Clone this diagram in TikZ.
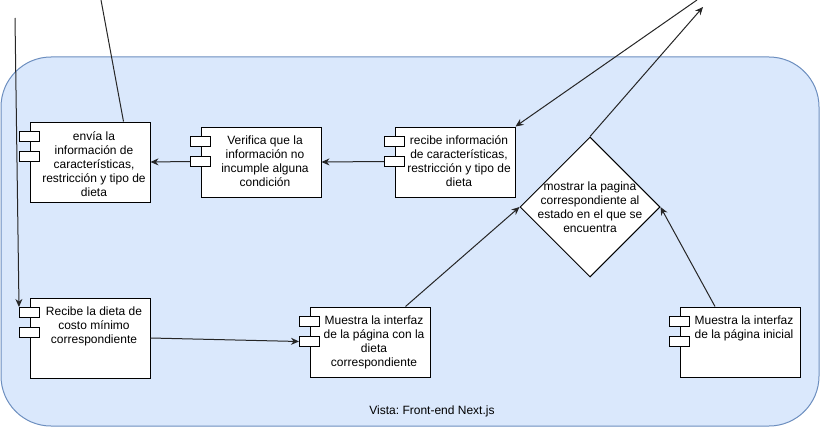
\documentclass[tikz,border=0pt]{standalone}
\definecolor{vistafill}{RGB}{218,232,252}
\definecolor{vistaline}{RGB}{108,142,191}
\usepackage{fontspec}
\setmainfont{Liberation Sans}
\usepackage{tikz}
\usetikzlibrary{positioning, arrows.meta, shapes.geometric}
\frenchspacing

\begin{document}
\begin{tikzpicture}[x=1pt, y=-1pt, font=\fontsize{12}{14}\selectfont,
  comp/.style={draw, fill=white, line width=1pt, minimum width=120pt, inner sep=0pt},
  port/.style={draw, fill=white, line width=1pt, minimum width=20pt, minimum height=10pt, inner sep=0pt},
  comptxt/.style={align=center, inner sep=0pt, xshift=4pt},
  link/.style={line width=1pt, black!85, -{Stealth[length=8pt, width=7pt]}}]
\useasboundingbox (0,0) rectangle (821,428);

% Vista container
\node[draw=vistaline, fill=vistafill, line width=1pt, rounded corners=50pt, minimum width=818pt, minimum height=369pt] (vista) at (410,241.5) {};
\node (vistalbl) at (432,411) {Vista: Front-end Next.js};

% upper row
\node[comp, minimum height=80pt] (c1) at (90,162) {};
\node[comp, minimum height=70pt, right=50pt of c1] (c2) {};
\node[comp, minimum height=70pt, right=73pt of c2] (c3) {};
\node[draw, fill=white, line width=1pt, diamond, minimum width=140pt, minimum height=140pt, inner sep=0pt] (d) at (590,207) {};

% lower row
\node[comp, minimum height=80pt, below=95pt of c1] (c5) {};
\node[comp, minimum height=70pt] (c6) at (370,342) {};
\node[comp, minimum height=70pt] (c7) at (740,342) {};

\foreach \c in {c1,c2,c3,c5,c6,c7} {
  \node[port] (\c-a) at ([yshift=-15pt]\c.north west) {};
  \node[port] (\c-b) at ([yshift=-35pt]\c.north west) {};
}

% texts
\node[comptxt, below=10pt of c1.north] (t1) {envía la\\información de\\características,\\restricción y tipo de\\dieta};
\node[comptxt, below=9pt of c2.north] (t2) {Verifica que la\\información no\\incumple alguna\\condición};
\node[comptxt, below=9pt of c3.north] (t3) {recibe información\\de características,\\restricción y tipo de\\dieta};
\node[align=center, inner sep=0pt] (td) at (d.center) {mostrar la pagina\\correspondiente al\\estado en el que se\\encuentra};
\node[comptxt, below=9pt of c5.north] (t5) {Recibe la dieta de\\costo mínimo\\correspondiente};
\node[comptxt, below=9pt of c6.north] (t6) {Muestra la interfaz\\de la página con la\\dieta\\correspondiente};
\node[comptxt, below=9pt of c7.north] (t7) {Muestra la interfaz\\de la página inicial};

% outside ends
\coordinate (e1) at (101,0);
\coordinate (e2) at (15,18);
\coordinate (e3) at (697,0);
\coordinate (e4) at (703,7);

% connectors
\draw[line width=1pt, black!85] (e1) -- ([xshift=-27pt]c1.north east);
\draw[link] (e2) -- (c5-a.north west);
\draw[link] (c2-b.west) -- (c1.east);
\draw[link] (c3-b.west) -- (c2.east);
\draw[link] (e3) -- (c3.north east);
\draw[link] (d.north) -- (e4);
\draw[link] ([xshift=-25pt]c6.north east) -- (d.west);
\draw[link] ([xshift=-25pt]c7.north) -- (d.east);
\draw[link] (c5.east) -- (c6-b.west);
\end{tikzpicture}
\end{document}
